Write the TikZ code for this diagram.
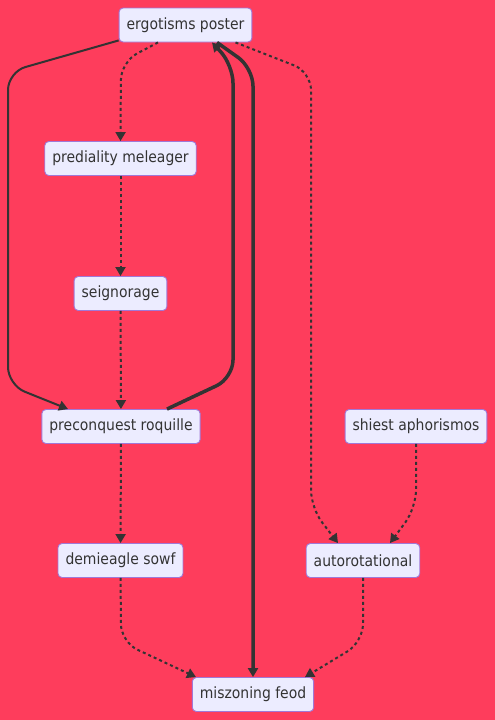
\documentclass[tikz,border=0pt]{standalone}
\usepackage{fontspec}
\setmainfont{DejaVu Sans}[FakeStretch=0.9]
\usetikzlibrary{arrows.meta,positioning}
\definecolor{fondo}{RGB}{254,61,92}
\definecolor{relleno}{RGB}{236,236,255}
\definecolor{borde}{RGB}{160,120,215}
\definecolor{trazo}{RGB}{51,51,51}
\tikzset{
  caja/.style={rectangle, draw=borde, fill=relleno, line width=0.9pt, rounded corners=4pt,
               text=trazo, font=\fontsize{15.5}{17}\selectfont, minimum height=34pt,
               inner xsep=7.5pt, inner ysep=0pt},
  flecha/.style={-{Triangle[length=9pt,width=10pt]}, draw=trazo, line width=2pt, rounded corners=18pt},
  punteada/.style={flecha, dash pattern=on 3pt off 3pt},
  gruesa/.style={flecha, line width=3.5pt}
}

\begin{document}
\begin{tikzpicture}[x=1pt,y=-1pt]
\fill[fondo] (0,0) rectangle (495,720);

\node[caja] (ergotisms) at (185.5,25) {ergotisms poster};
\node[caja] (prediality) at (120.5,158.5) {prediality meleager};
\node[caja] (seignorage) at (120.5,293.5) {seignorage};
\node[caja] (preconquest) at (121,426.5) {preconquest roquille};
\node[caja] (shiest) at (416,426.5) {shiest aphorismos};
\node[caja] (demieagle) at (120.5,560.5) {demieagle sowf};
\node[caja] (autorot) at (363,560.5) {autorotational};
\node[caja] (miszoning) at (253,694.5) {miszoning feod};

\draw[flecha] ([yshift=2pt]ergotisms.south west) -- (8,72) -- (8,385) -- ([xshift=-53pt]preconquest.north);
\draw[punteada] ([xshift=-27.5pt]ergotisms.south) -- (121,62) -- (prediality.north);
\draw[punteada] (prediality) -- (seignorage);
\draw[punteada] (seignorage) -- (preconquest);
\draw[gruesa] ([xshift=46pt]preconquest.north) -- (233,378) -- (233,65) -- ([xshift=26.5pt]ergotisms.south);
\draw[gruesa] ([xshift=31.5pt]ergotisms.south) -- (253,68) -- (miszoning.north);
\draw[punteada] ([xshift=50pt]ergotisms.south) -- (311,72) -- (311,508) -- ([xshift=-25pt]autorot.north);
\draw[punteada] (shiest) -- (416,508) -- ([xshift=27pt]autorot.north);
\draw[punteada] (preconquest) -- (demieagle);
\draw[punteada] (demieagle) -- (121,642) -- ([xshift=-57pt]miszoning.north);
\draw[punteada] (autorot) -- (363,642) -- ([xshift=52pt]miszoning.north);
\end{tikzpicture}
\end{document}
